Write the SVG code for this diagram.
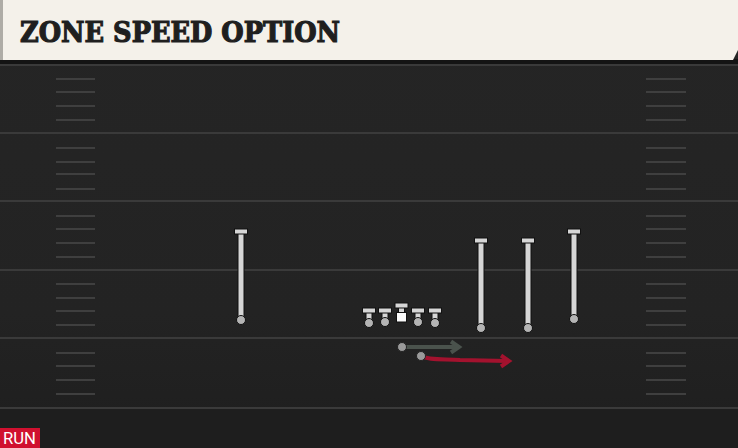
<svg xmlns="http://www.w3.org/2000/svg" width="738" height="448" viewBox="0 0 738 448">
<defs>
<style>
.yard{stroke:#3a3a3a;stroke-width:2}
.hash{stroke:#3f3f3f;stroke-width:2}
.stem{stroke:#111;stroke-width:7;fill:none}
.stemf{stroke:#d6d6d6;stroke-width:5;fill:none}
.bar{fill:#d6d6d6;stroke:#111;stroke-width:1}
.ball{fill:#b4b4b4;stroke:#111;stroke-width:1}
.lbl{font-family:"Roboto","Liberation Sans",sans-serif;fill:#fff}
</style>
<linearGradient id="fieldg" x1="0" y1="0" x2="0" y2="1">
<stop offset="0" stop-color="#252525"/>
<stop offset="0.7" stop-color="#232323"/>
<stop offset="1" stop-color="#1e1e1e"/>
</linearGradient>
</defs>
<rect x="0" y="0" width="738" height="448" fill="url(#fieldg)"/>
<rect x="0" y="408" width="738" height="40" fill="#1e1e1e"/>
<g id="field">
<line class="yard" x1="0" y1="65" x2="738" y2="65"/>
<line class="yard" x1="0" y1="133" x2="738" y2="133"/>
<line class="yard" x1="0" y1="201" x2="738" y2="201"/>
<line class="yard" x1="0" y1="270" x2="738" y2="270"/>
<line class="yard" x1="0" y1="338" x2="738" y2="338"/>
<line class="yard" x1="0" y1="408" x2="738" y2="408"/>
<g class="hash">
<line x1="56" y1="79" x2="95" y2="79"/><line x1="56" y1="92" x2="95" y2="92"/><line x1="56" y1="106" x2="95" y2="106"/><line x1="56" y1="120" x2="95" y2="120"/>
<line x1="56" y1="148" x2="95" y2="148"/><line x1="56" y1="162" x2="95" y2="162"/><line x1="56" y1="174" x2="95" y2="174"/><line x1="56" y1="189" x2="95" y2="189"/>
<line x1="56" y1="216" x2="95" y2="216"/><line x1="56" y1="229" x2="95" y2="229"/><line x1="56" y1="243" x2="95" y2="243"/><line x1="56" y1="257" x2="95" y2="257"/>
<line x1="56" y1="284" x2="95" y2="284"/><line x1="56" y1="298" x2="95" y2="298"/><line x1="56" y1="311" x2="95" y2="311"/><line x1="56" y1="325" x2="95" y2="325"/>
<line x1="56" y1="353" x2="95" y2="353"/><line x1="56" y1="366" x2="95" y2="366"/><line x1="56" y1="380" x2="95" y2="380"/><line x1="56" y1="394" x2="95" y2="394"/>
<line x1="646" y1="79" x2="686" y2="79"/><line x1="646" y1="92" x2="686" y2="92"/><line x1="646" y1="106" x2="686" y2="106"/><line x1="646" y1="120" x2="686" y2="120"/>
<line x1="646" y1="148" x2="686" y2="148"/><line x1="646" y1="162" x2="686" y2="162"/><line x1="646" y1="174" x2="686" y2="174"/><line x1="646" y1="189" x2="686" y2="189"/>
<line x1="646" y1="216" x2="686" y2="216"/><line x1="646" y1="229" x2="686" y2="229"/><line x1="646" y1="243" x2="686" y2="243"/><line x1="646" y1="257" x2="686" y2="257"/>
<line x1="646" y1="284" x2="686" y2="284"/><line x1="646" y1="298" x2="686" y2="298"/><line x1="646" y1="311" x2="686" y2="311"/><line x1="646" y1="325" x2="686" y2="325"/>
<line x1="646" y1="353" x2="686" y2="353"/><line x1="646" y1="366" x2="686" y2="366"/><line x1="646" y1="380" x2="686" y2="380"/><line x1="646" y1="394" x2="686" y2="394"/>
</g>
</g>
<g id="header">
<rect x="0" y="59" width="738" height="5" fill="#141414"/>
<rect x="0" y="0" width="4" height="60" fill="#aeaca6"/>
<path d="M3,0 H738 V50 L733,60 H3 Z" fill="#f4f1ea"/>
<text x="20" y="42" font-family="'DejaVu Serif','Liberation Serif',serif" font-weight="bold" font-size="28" fill="#1f1f1f" stroke="#1f1f1f" stroke-width="1.2" textLength="320" lengthAdjust="spacingAndGlyphs">ZONE SPEED OPTION</text>
</g>
<g id="connectors">
<path d="M402,347 H457" stroke="#4a524c" stroke-width="4" fill="none"/>
<polyline points="451,341.5 459,347 451,352.5" stroke="#4a524c" stroke-width="4" fill="none"/>
<path d="M421,356 C428,360 440,359 460,360 L507,361" stroke="#a3122e" stroke-width="4" fill="none"/>
<polyline points="501,355.5 509,361 501,366.5" stroke="#a3122e" stroke-width="4" fill="none"/>
</g>
<g id="wr1">
<line class="stem" x1="241" y1="232" x2="241" y2="318"/><line class="stemf" x1="241" y1="232" x2="241" y2="318"/>
<rect class="bar" x="234.5" y="229" width="13" height="5"/>
<circle class="ball" cx="241" cy="320" r="4.5"/>
</g>
<g id="wr2">
<line class="stem" x1="481" y1="241" x2="481" y2="326"/><line class="stemf" x1="481" y1="241" x2="481" y2="326"/>
<rect class="bar" x="474.5" y="238" width="13" height="5"/>
<circle class="ball" cx="481" cy="328" r="4.5"/>
</g>
<g id="wr3">
<line class="stem" x1="528" y1="241" x2="528" y2="326"/><line class="stemf" x1="528" y1="241" x2="528" y2="326"/>
<rect class="bar" x="521.5" y="238" width="13" height="5"/>
<circle class="ball" cx="528" cy="328" r="4.5"/>
</g>
<g id="wr4">
<line class="stem" x1="574" y1="232" x2="574" y2="317"/><line class="stemf" x1="574" y1="232" x2="574" y2="317"/>
<rect class="bar" x="567.5" y="229" width="13" height="5"/>
<circle class="ball" cx="574" cy="319" r="4.5"/>
</g>
<g id="lt">
<line class="stem" x1="369" y1="312" x2="369" y2="321"/><line class="stemf" x1="369" y1="312" x2="369" y2="321"/>
<rect class="bar" x="362.5" y="308" width="13" height="5"/>
<circle class="ball" cx="369" cy="323" r="4.5"/>
</g>
<g id="lg">
<line class="stem" x1="385" y1="312" x2="385" y2="320"/><line class="stemf" x1="385" y1="312" x2="385" y2="320"/>
<rect class="bar" x="378.5" y="308" width="13" height="5"/>
<circle class="ball" cx="385" cy="322" r="4.5"/>
</g>
<g id="c">
<line class="stem" x1="401.5" y1="307" x2="401.5" y2="313"/><line class="stemf" x1="401.5" y1="306" x2="401.5" y2="314"/>
<rect class="bar" x="395" y="303" width="13" height="5"/>
<rect x="396.5" y="312.5" width="10" height="9.5" fill="#fafafa" stroke="#111" stroke-width="1"/>
</g>
<g id="rg">
<line class="stem" x1="418" y1="312" x2="418" y2="320"/><line class="stemf" x1="418" y1="312" x2="418" y2="320"/>
<rect class="bar" x="411.5" y="308" width="13" height="5"/>
<circle class="ball" cx="418" cy="322" r="4.5"/>
</g>
<g id="rt">
<line class="stem" x1="435" y1="312" x2="435" y2="321"/><line class="stemf" x1="435" y1="312" x2="435" y2="321"/>
<rect class="bar" x="428.5" y="308" width="13" height="5"/>
<circle class="ball" cx="435" cy="323" r="4.5"/>
</g>
<g id="qb">
<circle cx="402" cy="347" r="4.5" fill="#9a9a9a" stroke="#222" stroke-width="1"/>
</g>
<g id="rb">
<circle cx="421" cy="356" r="4.5" fill="#9a9a9a" stroke="#222" stroke-width="1"/>
</g>
<g id="tag">
<rect x="0" y="428" width="40" height="20" fill="#d0102f"/>
<text class="lbl" x="3" y="444" font-size="16" textLength="33" lengthAdjust="spacingAndGlyphs">RUN</text>
</g>
</svg>
